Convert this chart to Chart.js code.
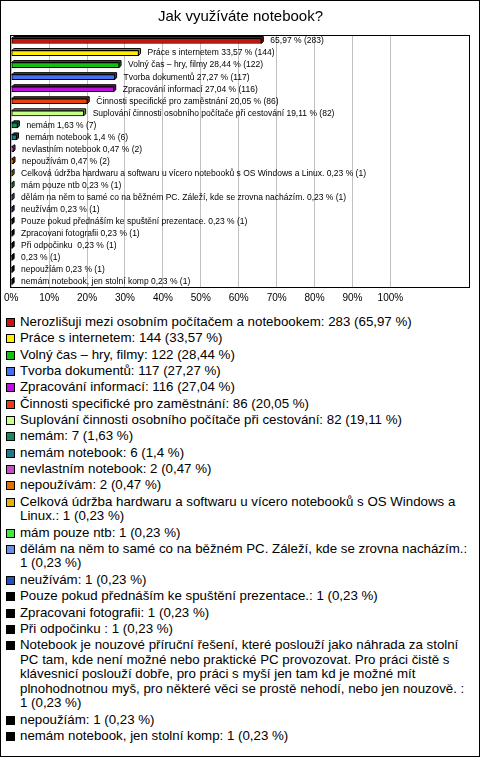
<!DOCTYPE html>
<html>
<head>
<meta charset="utf-8">
<script src="https://cdn.jsdelivr.net/npm/chart.js@4"></script>
<style>
  body { margin: 0; background: #fff; }
  #page { position: relative; width: 480px; height: 757px; font-family: 'Liberation Sans', Arial, sans-serif; }
  #frame { position: absolute; left: 0; top: 0; width: 480px; height: 757px; border: 1px solid #000; box-sizing: border-box; pointer-events: none; }
  #chart { position: absolute; left: 0; top: 0; }
  #legend { position: absolute; left: 0; top: 315px; margin: 0; padding: 0; list-style: none; }
  #legend li { display: flex; width: 472px; margin-bottom: 1.85px; font-size: 13.3px; line-height: 14.5px; color: #000; }
  #legend .sw { flex: none; width: 7px; height: 7px; border: 1px solid #000; margin: 3px 5px 0 6px; }
</style>
</head>
<body>
<div id="page">
  <canvas id="chart" width="480" height="310"></canvas>
  <ul id="legend"></ul>
  <div id="frame"></div>
</div>
<script>
const categories = [
    'Nerozlišuji mezi osobním počítačem a notebookem',
    'Práce s internetem',
    'Volný čas – hry, filmy',
    'Tvorba dokumentů',
    'Zpracování informací',
    'Činnosti specifické pro zaměstnání',
    'Suplování činnosti osobního počítače při cestování',
    'nemám',
    'nemám notebook',
    'nevlastním notebook',
    'nepoužívám',
    'Celková údržba hardwaru a softwaru u vícero notebooků s OS Windows a Linux.',
    'mám pouze ntb',
    'dělám na něm to samé co na běžném PC. Záleží, kde se zrovna nacházím.',
    'neužívám',
    'Pouze pokud přednáším ke spuštění prezentace.',
    'Zpracovani fotografii',
    'Při odpočinku ',
    'Notebook je nouzové příruční řešení, které poslouží jako náhrada za stolní PC tam, kde není možné nebo praktické PC provozovat. Pro práci čistě s klávesnicí poslouží dobře, pro práci s myší jen tam kd je možné mít plnohodnotnou myš, pro některé věci se prostě nehodí, nebo jen nouzově. ',
    'nepoužíám',
    'nemám notebook, jen stolní komp'
];
// names printed next to the bars (the two long ones are left out in the original)
const barNames = categories.map((c, i) => (i === 0 || i === 18) ? '' : c);
const counts = [283, 144, 122, 117, 116, 86, 82, 7, 6, 2, 2, 1, 1, 1, 1, 1, 1, 1, 1, 1, 1];
const percents = [65.97, 33.57, 28.44, 27.27, 27.04, 20.05, 19.11, 1.63, 1.4, 0.47, 0.47,
    0.23, 0.23, 0.23, 0.23, 0.23, 0.23, 0.23, 0.23, 0.23, 0.23];
const colors = ['#c8140c', '#ffee00', '#14c014', '#4470f0', '#c010e0', '#e84010', '#c8ff88',
    '#10905a', '#207890', '#c050c0', '#e07000', '#e8b000', '#40e840', '#6890e0', '#2050c0',
    '#000000', '#000000', '#000000', '#000000', '#000000', '#000000'];
const xTicks = [0, 10, 20, 30, 40, 50, 60, 70, 80, 90, 100];

const FONT = "'Liberation Sans', Arial, sans-serif";
const fmt = v => String(v).replace('.', ',');

function darken(hex, f) {
    const n = parseInt(hex.slice(1), 16);
    const r = Math.round(((n >> 16) & 255) * f), g = Math.round(((n >> 8) & 255) * f), b = Math.round((n & 255) * f);
    return 'rgb(' + r + ',' + g + ',' + b + ')';
}

// fake 3D depth behind each bar
const depthPlugin = {
    id: 'depth',
    beforeDatasetsDraw(chart) {
        const ctx = chart.ctx, d = 2;
        chart.getDatasetMeta(0).data.forEach((el, i) => {
            const { x, y, base, height } = el.getProps(['x', 'y', 'base', 'height'], true);
            const t = y - height / 2, b = y + height / 2;
            ctx.save();
            ctx.fillStyle = darken(colors[i], 0.6);
            ctx.strokeStyle = '#000';
            ctx.lineWidth = 1;
            ctx.beginPath();
            ctx.moveTo(base, t);
            ctx.lineTo(base + d, t - d);
            ctx.lineTo(x + d, t - d);
            ctx.lineTo(x + d, b - d);
            ctx.lineTo(x, b);
            ctx.lineTo(x, t);
            ctx.closePath();
            ctx.fill();
            ctx.stroke();
            ctx.restore();
        });
    }
};

// value labels + plot box
const labelPlugin = {
    id: 'barLabels',
    afterDatasetsDraw(chart) {
        const ctx = chart.ctx, a = chart.chartArea;
        ctx.save();
        ctx.strokeStyle = '#000';
        ctx.lineWidth = 1;
        ctx.strokeRect(Math.round(a.left) - 0.5, Math.round(a.top) + 0.5, Math.round(a.right - a.left), Math.round(a.bottom - a.top) - 1);
        ctx.font = '8.5px ' + FONT;
        ctx.fillStyle = '#000';
        ctx.textBaseline = 'middle';
        chart.getDatasetMeta(0).data.forEach((el, i) => {
            const txt = (barNames[i] ? barNames[i] + ' ' : '') + fmt(percents[i]) + ' % (' + counts[i] + ')';
            ctx.fillText(txt, el.x + 9, el.y);
        });
        ctx.restore();
    }
};

const chart = new Chart(document.getElementById('chart'), {
    type: 'bar',
    data: {
        labels: categories,
        datasets: [{
            data: percents,
            backgroundColor: colors,
            borderColor: '#000',
            borderWidth: 1,
            borderSkipped: false,
            barThickness: 5
        }]
    },
    plugins: [depthPlugin, labelPlugin],
    options: {
        indexAxis: 'y',
        responsive: false,
        animation: false,
        events: [],
        layout: { padding: { left: 11, right: 10, bottom: 2 } },
        plugins: {
            legend: { display: false },
            tooltip: { enabled: false },
            title: {
                display: true,
                text: 'Jak využíváte notebook?',
                color: '#000',
                font: { family: FONT, size: 15, weight: 'normal' },
                padding: { top: 8, bottom: 9 }
            }
        },
        scales: {
            x: {
                min: 0,
                max: 121,
                afterBuildTicks: axis => { axis.ticks = xTicks.map(v => ({ value: v })); },
                grid: { color: '#c0c0c0', drawTicks: false },
                border: { display: false },
                ticks: {
                    color: '#000',
                    padding: 4,
                    font: { family: FONT, size: 10 },
                    maxRotation: 0,
                    callback: v => v + '%'
                }
            },
            y: { display: false }
        }
    }
});

// legend below the chart
const ul = document.getElementById('legend');
categories.forEach((c, i) => {
    const li = document.createElement('li');
    const sw = document.createElement('span');
    sw.className = 'sw';
    sw.style.background = colors[i];
    const tx = document.createElement('span');
    tx.textContent = c + ': ' + counts[i] + ' (' + fmt(percents[i]) + ' %)';
    li.appendChild(sw);
    li.appendChild(tx);
    ul.appendChild(li);
});
</script>
</body>
</html>
